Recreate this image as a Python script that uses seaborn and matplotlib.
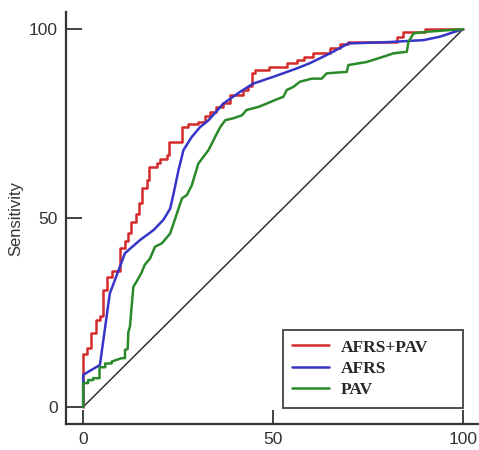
import pandas as pd
import matplotlib
matplotlib.use('Agg')
import matplotlib.pyplot as plt
import seaborn as sns

# ROC curve vertices (1 - specificity, sensitivity)
afrs_pav_x = [0, 0, 1, 1, 2, 2, 3.3, 3.3, 4.5, 4.5, 5.3, 5.3, 6.2, 6.2, 7.5, 7.5, 9.6, 9.6,
              11, 11, 11.9, 11.9, 12.5, 12.5, 14, 14, 14.6, 14.6, 15.4, 15.4, 16.7, 16.7,
              17.2, 17.2, 19.4, 19.4, 20.3, 20.3, 22, 22, 22.7, 22.7, 26, 26, 27.7, 27.7,
              30.3, 30.3, 32, 32, 33.5, 33.5, 35, 35, 36.9, 36.9, 38.7, 38.7, 42.2, 42.2,
              43.5, 43.5, 44.4, 44.4, 45.3, 45.3, 48.8, 48.8, 53.6, 53.6, 56.2, 56.2, 58, 58,
              60.6, 60.6, 65, 65, 67.6, 67.6, 69.8, 69.8, 82.5, 82.5, 84.3, 84.3, 90, 90, 100]
afrs_pav_y = [0, 14, 14, 15.5, 15.5, 19.5, 19.5, 23, 23, 24, 24, 31, 31, 34.5, 34.5, 36, 36, 42,
              42, 44, 44, 46, 46, 49, 49, 51, 51, 54, 54, 58, 58, 60, 60, 63.6, 63.6, 64.5,
              64.5, 65.5, 65.5, 66.7, 66.7, 70, 70, 74, 74, 75, 75, 75.5, 75.5, 77, 77, 78,
              78, 79.3, 79.3, 80.5, 80.5, 82.6, 82.6, 84, 84, 85, 85, 88.3, 88.3, 89.2, 89.2,
              90, 90, 91, 91, 91.8, 91.8, 92.7, 92.7, 93.6, 93.6, 94.9, 94.9, 96, 96, 96.6,
              96.6, 98, 98, 99.3, 99.3, 100, 100]

afrs_x = [0, 0, 4.4, 7, 11, 15, 18.5, 21.1, 22.9, 23.8, 25.1, 26.4, 28.6, 30.8, 33, 36.9,
          41.3, 44.8, 50.1, 56.2, 59.7, 65, 69.8, 80.8, 89.6, 93.9, 96.6, 100]
afrs_y = [0, 8.5, 11.1, 30, 40.7, 44.2, 46.8, 49.5, 52.5, 56.5, 62.7, 68, 71.5, 74.1, 75.9,
          80.3, 83.4, 85.6, 87.4, 89.6, 91, 93.6, 96.2, 96.6, 97.1, 98, 98.9, 100]

pav_x = [0, 0, 1.3, 1.3, 2.6, 2.6, 4.3, 4.3, 5.8, 5.8, 7.5, 7.5, 10.1, 11, 11, 11.7, 11.9,
         12.3, 13.2, 14, 15.3, 16.2, 17.6, 18.9, 20.7, 22.9, 23.8, 25.1, 26, 27.3, 28.6,
         30.3, 33, 35.2, 36.1, 37.4, 39.5, 41.8, 43, 46.1, 48.3, 51.4, 52.7, 53.6, 55.3,
         57.1, 60.2, 62.8, 64.1, 69.4, 69.8, 74.6, 79, 81.7, 85.2, 85.6, 87, 90.4, 95.7, 100]
pav_y = [0, 6.3, 6.3, 7.1, 7.1, 7.6, 7.6, 10.5, 10.5, 11.5, 11.5, 12, 12.9, 12.9, 15.1, 15.3,
         19.9, 21.2, 31.8, 33.1, 35.4, 37.6, 39.3, 42.4, 43.3, 45.9, 48.6, 52.5, 55.2, 56.1,
         58.7, 64.4, 68, 72.4, 74.1, 75.9, 76.4, 77.2, 78.6, 79.4, 80.3, 81.6, 82.1, 83.9,
         84.7, 86.1, 86.9, 86.9, 88.3, 88.7, 90.5, 91.3, 92.7, 93.6, 94, 96.6, 98.9, 99.3,
         99.7, 100]

model_names = ['AFRS+PAV', 'AFRS', 'PAV']
model_colors = ['#d42a2a', '#3535c8', '#2a8a2a']

roc_df = pd.concat([
    pd.DataFrame({'fpr': afrs_pav_x, 'tpr': afrs_pav_y, 'model': 'AFRS+PAV'}),
    pd.DataFrame({'fpr': afrs_x, 'tpr': afrs_y, 'model': 'AFRS'}),
    pd.DataFrame({'fpr': pav_x, 'tpr': pav_y, 'model': 'PAV'}),
], ignore_index=True)

sns.set_theme(style="white")
plt.rcParams['font.family'] = ['Liberation Sans', 'DejaVu Sans']
plt.rcParams['xtick.direction'] = 'in'
plt.rcParams['ytick.direction'] = 'in'
plt.rcParams['xtick.bottom'] = True
plt.rcParams['ytick.left'] = True

fig = plt.figure(figsize=(4.79, 4.5), dpi=100)
ax = fig.add_axes([0.138, 0.058, 0.862, 0.915])

# chance line
ax.plot([0, 100], [0, 100], color='#333333', linewidth=1.1, zorder=1)

sns.lineplot(data=roc_df, x='fpr', y='tpr', hue='model', hue_order=model_names,
             palette=model_colors, sort=False, estimator=None, units='model',
             linewidth=1.8, ax=ax, zorder=3)

ax.set_xlim(-4.5, 104.2)
ax.set_ylim(-4.5, 104.5)
ax.set_xticks([0, 50, 100])
ax.set_yticks([0, 50, 100])
ax.set_xlabel('')
ax.set_ylabel('Sensitivity', fontsize=12, color='#333333', labelpad=4)

sns.despine(ax=ax)
for side in ['left', 'bottom']:
    ax.spines[side].set_linewidth(1.6)
    ax.spines[side].set_color('#333333')
ax.tick_params(axis='y', direction='in', length=11.5, width=1.3, color='#333333',
               labelsize=12.5, labelcolor='#333333', pad=6)
ax.tick_params(axis='x', direction='in', length=10, width=1.3, color='#333333',
               labelsize=12.5, labelcolor='#333333', pad=6)

leg = ax.legend(loc='lower left', bbox_to_anchor=(0.525, 0.039, 0.436, 0.194),
                mode='expand', borderaxespad=0, frameon=True, fancybox=False,
                handlelength=2.1, borderpad=0.55, labelspacing=0.3, handletextpad=0.7,
                prop={'family': 'Liberation Serif', 'weight': 'bold', 'size': 12.5})
leg.get_frame().set_edgecolor('#222222')
leg.get_frame().set_linewidth(1.4)
for line in leg.get_lines():
    line.set_linewidth(1.8)

fig.savefig('out.png', dpi=100)
